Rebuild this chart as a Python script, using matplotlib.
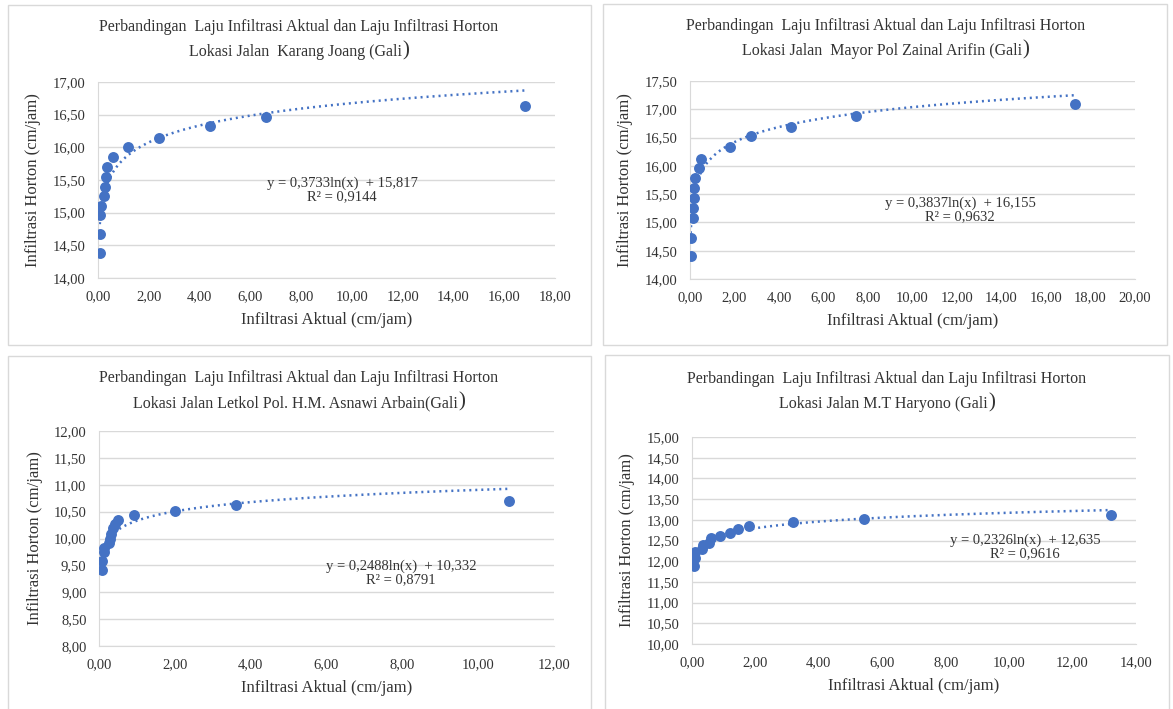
import matplotlib
matplotlib.use("Agg")
import matplotlib.pyplot as plt
import numpy as np
from matplotlib.patches import Rectangle

# data (x = infiltrasi aktual, y = infiltrasi horton)
karang_x = [0.07, 0.07, 0.07, 0.12, 0.24, 0.27, 0.31, 0.34, 0.61, 1.20, 2.41, 4.40, 6.61, 16.83]
karang_y = [14.39, 14.67, 14.96, 15.10, 15.25, 15.39, 15.55, 15.70, 15.85, 16.00, 16.15, 16.32, 16.47, 16.64]

zainal_x = [0.03, 0.03, 0.13, 0.13, 0.20, 0.20, 0.23, 0.42, 0.48, 1.82, 2.74, 4.54, 7.47, 17.29]
zainal_y = [14.41, 14.73, 15.07, 15.25, 15.43, 15.60, 15.78, 15.96, 16.13, 16.33, 16.52, 16.69, 16.89, 17.09]

asnawi_x = [0.09, 0.09, 0.12, 0.12, 0.27, 0.29, 0.32, 0.37, 0.42, 0.49, 0.91, 2.01, 3.61, 10.81]
asnawi_y = [9.42, 9.58, 9.74, 9.83, 9.91, 10.00, 10.09, 10.19, 10.27, 10.34, 10.44, 10.52, 10.62, 10.70]

haryono_x = [0.06, 0.09, 0.09, 0.33, 0.35, 0.53, 0.59, 0.87, 1.20, 1.44, 1.81, 3.20, 5.42, 13.22]
haryono_y = [11.89, 12.07, 12.22, 12.29, 12.39, 12.43, 12.55, 12.62, 12.69, 12.78, 12.86, 12.95, 13.03, 13.12]

titles = ["Lokasi Jalan  Karang Joang (Gali",
          "Lokasi Jalan  Mayor Pol Zainal Arifin (Gali",
          "Lokasi Jalan Letkol Pol. H.M. Asnawi Arbain(Gali",
          "Lokasi Jalan M.T Haryono (Gali"]
coef_a = [0.3733, 0.3837, 0.2488, 0.2326]
coef_b = [15.817, 16.155, 10.332, 12.635]
eq_text = ["y = 0,3733ln(x)  + 15,817\nR² = 0,9144",
           "y = 0,3837ln(x)  + 16,155\nR² = 0,9632",
           "y = 0,2488ln(x)  + 10,332\nR² = 0,8791",
           "y = 0,2326ln(x)  + 12,635\nR² = 0,9616"]
xlims = [18, 20, 12, 14]
ylims = [(14, 17), (14, 17.5), (8, 12), (10, 15)]

W, H = 1173, 709
plt.rcParams['font.family'] = ['Liberation Serif', 'DejaVu Serif']
fig = plt.figure(figsize=(W / 100, H / 100), dpi=100)
fig.patch.set_facecolor('white')

blue = '#4472C4'
# pixel boxes: panel frame (l, t, r, b), plot area (l, t, r, b), title centre x, eq position
frames = [(8, 5, 591, 345), (603, 4, 1167, 345), (8, 356, 591, 712), (605, 355, 1169, 712)]
areas = [(98, 82, 555, 278), (690, 81, 1135, 279), (99, 431, 554, 646), (692, 437, 1136, 644)]
title_cx = [299, 886, 299, 887]
title_y = [27, 26, 378, 379]
eq_pos = [(342, 190), (960, 210), (401, 573), (1025, 547)]

data = [(karang_x, karang_y), (zainal_x, zainal_y), (asnawi_x, asnawi_y), (haryono_x, haryono_y)]

renderer = fig.canvas.get_renderer()
fmt = plt.FuncFormatter(lambda v, p: ('%.2f' % v).replace('.', ','))

for i in range(4):
    fl, ft, fr, fb = frames[i]
    fig.patches.append(Rectangle((fl / W, 1 - fb / H), (fr - fl) / W, (fb - ft) / H,
                                 transform=fig.transFigure, fill=False,
                                 edgecolor='#D9D9D9', lw=1.0))
    l, t, r, b = areas[i]
    ax = fig.add_axes([l / W, 1 - b / H, (r - l) / W, (b - t) / H])
    x, y = data[i]
    ax.scatter(x, y, s=62, color=blue, zorder=3, linewidths=0)
    xs = np.linspace(min(x), max(x), 400)
    ax.plot(xs, coef_a[i] * np.log(xs) + coef_b[i], color=blue, lw=1.8,
            linestyle=(0, (0.8, 1.6)), zorder=2)
    ax.set_xlim(0, xlims[i])
    ax.set_ylim(*ylims[i])
    ax.set_xticks(np.arange(0, xlims[i] + 0.01, 2))
    ax.set_yticks(np.arange(ylims[i][0], ylims[i][1] + 0.01, 0.5))
    ax.xaxis.set_major_formatter(fmt)
    ax.yaxis.set_major_formatter(fmt)
    ax.tick_params(length=0, labelsize=10.5, colors='#333333', pad=9)
    ax.grid(axis='y', color='#D9D9D9', lw=1.0)
    ax.set_axisbelow(True)
    for s in ['top', 'right']:
        ax.spines[s].set_visible(False)
    ax.spines['left'].set_color('#D9D9D9')
    ax.spines['bottom'].set_color('#D9D9D9')
    ax.set_xlabel('Infiltrasi Aktual (cm/jam)', fontsize=12, color='#333333', labelpad=6)
    ax.set_ylabel('Infiltrasi Horton (cm/jam)', fontsize=12, color='#333333', labelpad=8)

    ex, ey = eq_pos[i]
    fig.text(ex / W, 1 - ey / H, eq_text[i], ha='center', va='center', fontsize=10.5,
             color='#333333', linespacing=1.05)

    # title, two lines, the closing bracket a bit larger
    cx = title_cx[i] / W
    fig.text(cx, 1 - title_y[i] / H,
             'Perbandingan  Laju Infiltrasi Aktual dan Laju Infiltrasi Horton',
             ha='center', va='center', fontsize=11.5, color='#333333')
    y2 = 1 - (title_y[i] + 25) / H
    t1 = fig.text(0, y2, titles[i], ha='left', va='center', fontsize=11.5, color='#333333')
    t2 = fig.text(0, y2 + 1 / H, ')', ha='left', va='center', fontsize=15, color='#333333')
    w1 = t1.get_window_extent(renderer).width / W
    w2 = t2.get_window_extent(renderer).width / W
    start = cx - (w1 + w2) / 2
    t1.set_x(start)
    t2.set_x(start + w1)

fig.savefig('out.png', dpi=100)
